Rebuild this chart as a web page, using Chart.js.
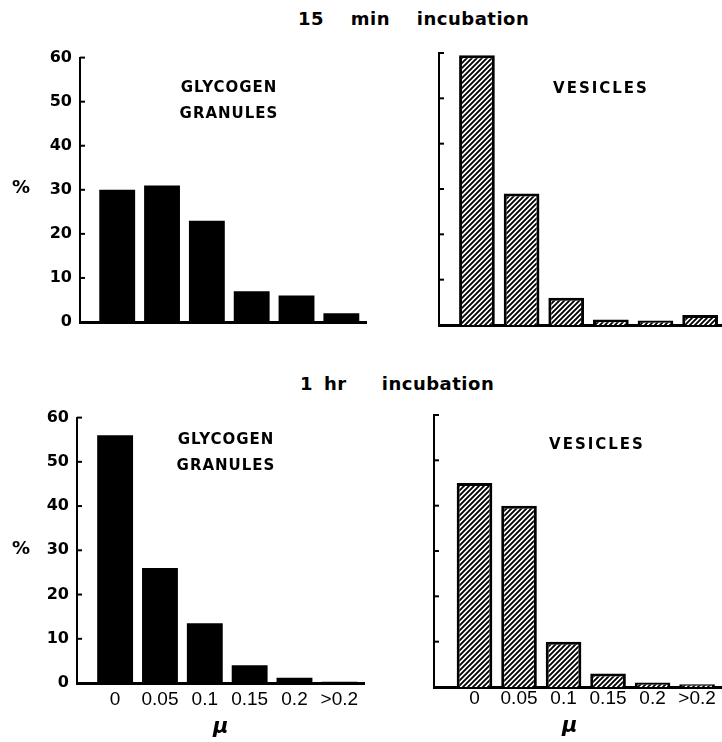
<!DOCTYPE html>
<html>
<head>
<meta charset="utf-8">
<script src="https://cdn.jsdelivr.net/npm/chart.js@4.4.0/dist/chart.umd.min.js"></script>
<style>
    body { margin: 0; background: #fff; width: 722px; height: 742px; position: relative; overflow: hidden;
           font-family: 'DejaVu Sans', sans-serif; color: #000; }
    canvas { position: absolute; }
    .txt { position: absolute; font-weight: bold; white-space: pre; }
    .title { font-size: 18px; line-height: 18px; letter-spacing: 0.5px; }
    .panel { font-size: 15px; line-height: 25.5px; text-align: center; width: 200px; letter-spacing: 1px; }
    .pct { font-size: 18px; line-height: 18px; }
    .mu { font-size: 21px; line-height: 21px; font-style: italic; }
</style>
</head>
<body>
<div class="txt title" style="left:298px; top:10px; word-spacing:20px;">15 min incubation</div>
<div class="txt title" style="left:300px; top:375px;">1<span style="display:inline-block;width:11px"> </span>hr<span style="display:inline-block;width:35px"> </span>incubation</div>

<canvas id="g15" width="370" height="300" style="left:0; top:40px;"></canvas>
<canvas id="v15" width="362" height="300" style="left:360px; top:40px;"></canvas>
<canvas id="g60" width="370" height="342" style="left:0; top:400px;"></canvas>
<canvas id="v60" width="362" height="342" style="left:360px; top:400px;"></canvas>

<div class="txt panel" style="left:129px; top:75px;">GLYCOGEN<br>GRANULES</div>
<div class="txt panel" style="left:501px; top:75.5px; letter-spacing:2px;">VESICLES</div>
<div class="txt panel" style="left:126px; top:426px; line-height:26px;">GLYCOGEN<br>GRANULES</div>
<div class="txt panel" style="left:497px; top:431.5px; letter-spacing:2px;">VESICLES</div>

<div class="txt pct" style="left:12px; top:178px;">%</div>
<div class="txt pct" style="left:12px; top:539px;">%</div>
<div class="txt mu" style="left:213px; top:716px;">μ</div>
<div class="txt mu" style="left:562px; top:715px;">μ</div>

<script>
document.addEventListener('DOMContentLoaded', function() {
    const categories = ['0', '0.05', '0.1', '0.15', '0.2', '>0.2'];
    const glycogen15 = [30, 31, 23, 7, 6, 2];
    const vesicles15 = [59.5, 29, 6, 1.2, 1, 2.2];
    const glycogen60 = [56, 26, 13.5, 4, 1.2, 0.3];
    const vesicles60 = [45, 40, 10, 3, 1, 0.6];
    const yTicks = [0, 10, 20, 30, 40, 50, 60];

    // diagonal hatch for the vesicle bars
    const tile = document.createElement('canvas');
    tile.width = 5;
    tile.height = 5;
    const tctx = tile.getContext('2d');
    tctx.fillStyle = '#fff';
    tctx.fillRect(0, 0, 5, 5);
    tctx.strokeStyle = '#000';
    tctx.lineWidth = 1.9;
    tctx.beginPath();
    tctx.moveTo(-1, 6); tctx.lineTo(6, -1);
    tctx.moveTo(-1, 1); tctx.lineTo(1, -1);
    tctx.moveTo(4, 6); tctx.lineTo(6, 4);
    tctx.stroke();
    const hatch = tctx.createPattern(tile, 'repeat');

    // short tick marks pointing into the plot
    const innerTicks = {
        id: 'innerTicks',
        afterDatasetsDraw(chart) {
            const { ctx, chartArea, scales } = chart;
            ctx.save();
            ctx.strokeStyle = '#000';
            ctx.lineWidth = 2;
            yTicks.forEach(v => {
                if (v === 0) return;
                const py = scales.y.getPixelForValue(v);
                ctx.beginPath();
                ctx.moveTo(chartArea.left, py);
                ctx.lineTo(chartArea.left + 5, py);
                ctx.stroke();
            });
            ctx.restore();
        }
    };

    function panel(id, values, hatched, p) {
        new Chart(document.getElementById(id), {
            type: 'bar',
            data: {
                datasets: [{
                    data: values.map((v, i) => ({ x: i, y: v })),
                    backgroundColor: hatched ? hatch : '#000',
                    borderColor: '#000',
                    borderWidth: hatched ? 3 : 0,
                    barPercentage: 0.8,
                    categoryPercentage: 1
                }]
            },
            options: {
                responsive: false,
                animation: false,
                layout: { padding: { top: p.top, right: p.right, left: 0, bottom: 0 } },
                plugins: { legend: { display: false }, tooltip: { enabled: false } },
                scales: {
                    x: {
                        type: 'linear',
                        offset: false,
                        min: p.xMin,
                        max: p.xMax,
                        afterBuildTicks: axis => { axis.ticks = categories.map((c, i) => ({ value: i })); },
                        afterFit: axis => { axis.height = p.xHeight; },
                        grid: { display: false, drawTicks: false, offset: false },
                        border: { display: true, color: '#000', width: 3 },
                        ticks: {
                            display: p.xLabels,
                            autoSkip: false,
                            maxRotation: 0,
                            padding: p.xPad,
                            color: '#000',
                            font: { family: 'Liberation Sans', size: 19 },
                            callback: v => categories[v]
                        }
                    },
                    y: {
                        min: 0,
                        max: 60,
                        afterBuildTicks: axis => { axis.ticks = yTicks.map(v => ({ value: v })); },
                        afterFit: axis => { axis.width = p.yWidth; },
                        grid: { display: false, drawTicks: false },
                        border: { display: true, color: '#000', width: 2 },
                        ticks: {
                            display: p.yLabels,
                            padding: 8,
                            color: '#000',
                            font: { family: 'DejaVu Sans', weight: 'bold', size: 16 }
                        }
                    }
                }
            },
            plugins: [innerTicks]
        });
    }

    panel('g15', glycogen15, false, { top: 12, right: 4, xHeight: 18, yWidth: 80, xMin: -0.83, xMax: 5.55, xLabels: false, yLabels: true, xPad: 0 });
    panel('v15', vesicles15, true, { top: 13, right: 0, xHeight: 15, yWidth: 79, xMin: -0.85, xMax: 5.49, xLabels: false, yLabels: false, xPad: 0 });
    panel('g60', glycogen60, false, { top: 12, right: 6, xHeight: 59, yWidth: 77, xMin: -0.85, xMax: 5.55, xLabels: true, yLabels: true, xPad: 5 });
    panel('v60', vesicles60, true, { top: 15, right: 0, xHeight: 55, yWidth: 74, xMin: -0.91, xMax: 5.56, xLabels: true, yLabels: false, xPad: 0 });
});
</script>
</body>
</html>
